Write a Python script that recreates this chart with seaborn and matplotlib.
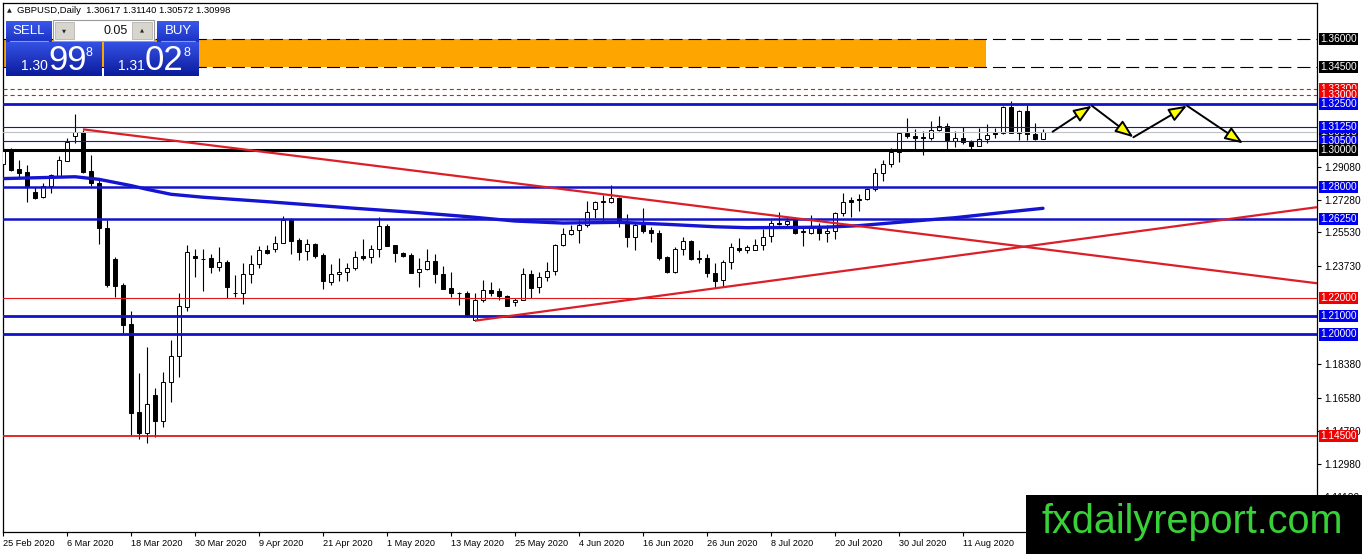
import numpy as np
import matplotlib
matplotlib.use("Agg")
import matplotlib.pyplot as plt
import seaborn as sns
from matplotlib.patches import Rectangle
from matplotlib.colors import LinearSegmentedColormap

# ------------------------------------------------------------------ data
symbol = "GBPUSD,Daily"
date_labels = ["25 Feb 2020", "6 Mar 2020", "18 Mar 2020", "30 Mar 2020", "9 Apr 2020",
               "21 Apr 2020", "1 May 2020", "13 May 2020", "25 May 2020", "4 Jun 2020",
               "16 Jun 2020", "26 Jun 2020", "8 Jul 2020", "20 Jul 2020", "30 Jul 2020",
               "11 Aug 2020", "21 Aug 2020"]
label_step = 8

opens = [1.2924, 1.3000, 1.2895, 1.2883, 1.2772, 1.2743, 1.2805, 1.2859, 1.2942, 1.3076,
         1.3096, 1.2886, 1.2819, 1.2575, 1.2407, 1.2268, 1.2057, 1.1578, 1.1464, 1.1672,
         1.1533, 1.1741, 1.1883, 1.2151, 1.2425, 1.2411, 1.2413, 1.2364, 1.2395, 1.2227,
         1.2223, 1.2326, 1.2380, 1.2458, 1.2462, 1.2498, 1.2621, 1.2512, 1.2451, 1.2493,
         1.2431, 1.2287, 1.2327, 1.2338, 1.2359, 1.2424, 1.2419, 1.2462, 1.2588, 1.2484,
         1.2440, 1.2431, 1.2338, 1.2354, 1.2398, 1.2327, 1.2254, 1.2227, 1.2223, 1.2081,
         1.2186, 1.2243, 1.2236, 1.2209, 1.2174, 1.2186, 1.2327, 1.2256, 1.2314, 1.2345,
         1.2484, 1.2543, 1.2564, 1.2591, 1.2680, 1.2724, 1.2720, 1.2738, 1.2603, 1.2527,
         1.2594, 1.2567, 1.2549, 1.2418, 1.2340, 1.2465, 1.2509, 1.2413, 1.2413, 1.2331,
         1.2295, 1.2392, 1.2467, 1.2460, 1.2460, 1.2483, 1.2535, 1.2603, 1.2597, 1.2621,
         1.2557, 1.2549, 1.2576, 1.2549, 1.2561, 1.2657, 1.2729, 1.2734, 1.2733, 1.2787,
         1.2874, 1.2922, 1.2987, 1.3090, 1.3076, 1.3072, 1.3063, 1.3108, 1.3132, 1.3051,
         1.3063, 1.3045, 1.3023, 1.3058, 1.3096, 1.3094, 1.3231, 1.3090, 1.3211, 1.3085,
         1.30617]
highs = [1.3018, 1.3009, 1.2946, 1.2919, 1.2798, 1.2819, 1.2870, 1.2967, 1.3063, 1.3195,
         1.3108, 1.2973, 1.2837, 1.2620, 1.2422, 1.2277, 1.2129, 1.1790, 1.1934, 1.1708,
         1.1797, 1.1970, 1.2223, 1.2485, 1.2462, 1.2462, 1.2437, 1.2476, 1.2404, 1.2323,
         1.2386, 1.2431, 1.2482, 1.2485, 1.2534, 1.2642, 1.2630, 1.2521, 1.2516, 1.2497,
         1.2440, 1.2382, 1.2413, 1.2386, 1.2455, 1.2516, 1.2484, 1.2639, 1.2599, 1.2484,
         1.2449, 1.2440, 1.2413, 1.2462, 1.2436, 1.2372, 1.2338, 1.2232, 1.2236, 1.2223,
         1.2296, 1.2283, 1.2250, 1.2213, 1.2199, 1.2363, 1.2350, 1.2341, 1.2395, 1.2493,
         1.2575, 1.2594, 1.2621, 1.2725, 1.2725, 1.2756, 1.2810, 1.2747, 1.2653, 1.2603,
         1.2684, 1.2582, 1.2564, 1.2425, 1.2472, 1.2530, 1.2513, 1.2458, 1.2436, 1.2386,
         1.2404, 1.2495, 1.2521, 1.2485, 1.2516, 1.2570, 1.2621, 1.2665, 1.2639, 1.2639,
         1.2582, 1.2647, 1.2603, 1.2594, 1.2666, 1.2765, 1.2747, 1.2760, 1.2796, 1.2901,
         1.2946, 1.3009, 1.3099, 1.3172, 1.3112, 1.3105, 1.3157, 1.3184, 1.3145, 1.3105,
         1.3126, 1.3054, 1.3121, 1.3139, 1.3121, 1.3240, 1.3266, 1.3217, 1.3244, 1.3145,
         1.31140]
lows = [1.2919, 1.2888, 1.2855, 1.2720, 1.2734, 1.2738, 1.2765, 1.2852, 1.2942, 1.3036,
        1.2877, 1.2805, 1.2490, 1.2259, 1.2201, 1.2006, 1.1455, 1.1432, 1.1410, 1.1443,
        1.1497, 1.1636, 1.1771, 1.2129, 1.2313, 1.2238, 1.2332, 1.2346, 1.2200, 1.2205,
        1.2165, 1.2280, 1.2359, 1.2438, 1.2449, 1.2496, 1.2437, 1.2404, 1.2404, 1.2412,
        1.2245, 1.2267, 1.2292, 1.2292, 1.2350, 1.2404, 1.2386, 1.2422, 1.2480, 1.2395,
        1.2418, 1.2332, 1.2259, 1.2347, 1.2277, 1.2247, 1.2205, 1.2160, 1.2095, 1.2075,
        1.2177, 1.2208, 1.2186, 1.2155, 1.2155, 1.2186, 1.2200, 1.2227, 1.2292, 1.2323,
        1.2480, 1.2539, 1.2495, 1.2582, 1.2630, 1.2603, 1.2711, 1.2582, 1.2474, 1.2458,
        1.2549, 1.2503, 1.2404, 1.2331, 1.2336, 1.2430, 1.2404, 1.2385, 1.2310, 1.2250,
        1.2259, 1.2354, 1.2449, 1.2440, 1.2458, 1.2458, 1.2503, 1.2594, 1.2578, 1.2546,
        1.2477, 1.2546, 1.2512, 1.2503, 1.2518, 1.2644, 1.2639, 1.2669, 1.2729, 1.2778,
        1.2834, 1.2910, 1.2937, 1.3067, 1.3005, 1.2973, 1.3054, 1.3105, 1.3005, 1.3014,
        1.3031, 1.3005, 1.3022, 1.3040, 1.3067, 1.3087, 1.3090, 1.3054, 1.3054, 1.3054,
        1.30572]
closes = [1.3004, 1.2892, 1.2877, 1.2801, 1.2742, 1.2807, 1.2863, 1.2946, 1.3043, 1.3098,
          1.2883, 1.2819, 1.2575, 1.2268, 1.2263, 1.2051, 1.1576, 1.1464, 1.1623, 1.1533,
          1.1741, 1.1883, 1.2156, 1.2445, 1.2413, 1.2407, 1.2364, 1.2391, 1.2259, 1.2223,
          1.2328, 1.2382, 1.2458, 1.2440, 1.2494, 1.2621, 1.2509, 1.2449, 1.2493, 1.2425,
          1.2292, 1.2327, 1.2338, 1.2359, 1.2422, 1.2417, 1.2462, 1.2588, 1.2480, 1.2440,
          1.2425, 1.2335, 1.2354, 1.2398, 1.2327, 1.2247, 1.2227, 1.2223, 1.2105, 1.2186,
          1.2243, 1.2227, 1.2208, 1.2155, 1.2186, 1.2327, 1.2254, 1.2314, 1.2345, 1.2484,
          1.2545, 1.2567, 1.2594, 1.2663, 1.2716, 1.2716, 1.2738, 1.2603, 1.2530, 1.2594,
          1.2561, 1.2549, 1.2417, 1.2340, 1.2465, 1.2509, 1.2409, 1.2409, 1.2331, 1.2292,
          1.2392, 1.2472, 1.2458, 1.2472, 1.2483, 1.2530, 1.2603, 1.2597, 1.2616, 1.2549,
          1.2563, 1.2576, 1.2549, 1.2563, 1.2657, 1.2720, 1.2720, 1.2727, 1.2787, 1.2874,
          1.2922, 1.2987, 1.3090, 1.3078, 1.3067, 1.3063, 1.3108, 1.3132, 1.3052, 1.3063,
          1.3042, 1.3022, 1.3058, 1.3081, 1.3089, 1.3231, 1.3090, 1.3211, 1.3085, 1.3058,
          1.30998]

# moving average
ma_bars = [0, 9, 12, 16, 18, 21, 25, 29, 33, 37, 44, 52, 58, 64, 70, 77, 83, 89, 93,
           98, 103, 107, 113, 119, 126, 130]
ma_values = [1.2845, 1.2855, 1.2841, 1.2807, 1.2787, 1.2760, 1.2744, 1.2732, 1.2720,
             1.2707, 1.2684, 1.2660, 1.2639, 1.2615, 1.2604, 1.2608, 1.2597, 1.2584,
             1.2579, 1.2580, 1.2582, 1.2590, 1.2612, 1.2633, 1.2666, 1.2684]

# trend lines (two anchor points each, drawn as rays to the right)
trend_down_bars = [10, 76]
trend_down_prices = [1.3112, 1.2755]
trend_up_bars = [59, 104]
trend_up_prices = [1.2075, 1.2338]

# projected path (zig-zag arrows)
proj_bars = [131.2, 136.1, 141.3, 148.0, 155.0]
proj_prices = [1.3099, 1.3240, 1.3069, 1.3240, 1.3036]

# resistance zone
zone_low, zone_high = 1.345, 1.360
zone_end_bar = 122.9

# horizontal levels
level_prices = [1.360, 1.345, 1.333, 1.330, 1.325, 1.3125, 1.305, 1.300, 1.280,
                1.2625, 1.220, 1.210, 1.200, 1.145]
level_colors = ["black", "black", "#E01818", "#E01818", "#1212C8", "#1212C8",
                "#1212C8", "black", "#1212C8", "#1212C8", "#E01818", "#1212C8",
                "#1212C8", "#E01818"]
level_widths = [0.8, 0.8, 0.8, 0.8, 2.0, 0.8, 0.8, 2.2, 1.8, 1.8, 0.8, 2.0, 2.0, 1.3]
level_styles = ["long", "long", "short", "short", "-", "-", "-", "-", "-", "-", "-",
                "-", "-", "-"]
label_box_colors = ["black", "black", "#F00000", "#F00000", "#0000F0", "#0000F0",
                    "#0000F0", "black", "#0000F0", "#0000F0", "#F00000", "#0000F0",
                    "#0000F0", "#F00000"]

axis_ticks = [1.2908, 1.2728, 1.2553, 1.2373, 1.1838, 1.1658, 1.1478, 1.1298, 1.1118]

# ------------------------------------------------------------------ style
sns.set_style("white")
plt.rcParams["font.family"] = ["Liberation Sans", "DejaVu Sans"]
plt.rcParams["lines.scale_dashes"] = False

W, H = 1362, 554
fig = plt.figure(figsize=(W / 100, H / 100), dpi=100, facecolor="white")
ax_l, ax_r, ax_t, ax_b = 2.7, 1316.7, 2.7, 532.3
ax = fig.add_axes([ax_l / W, (H - ax_b) / H, (ax_r - ax_l) / W, (ax_b - ax_t) / H])
ax.set_facecolor("white")

n = len(opens)
idx = np.arange(n)
o = np.array(opens); h = np.array(highs); l = np.array(lows); c = np.array(closes)

xmin = (ax_l - 3) / 8.0
xmax = (ax_r - 3) / 8.0
ax.set_xlim(xmin, xmax)
ax.set_ylim(1.092791, 1.379837)

# zone
ax.add_patch(Rectangle((xmin - 5, zone_low), zone_end_bar - xmin + 5, zone_high - zone_low,
                       facecolor="#FFA500", edgecolor="none", zorder=1))

# candles
ax.vlines(idx, l, h, color="black", lw=0.8, zorder=2)
body_bottom = np.minimum(o, c)
body_height = np.maximum(np.abs(c - o), 0.00012)
body_colors = np.where(c >= o, "white", "black")
ax.bar(idx, body_height, bottom=body_bottom, width=0.62, color=body_colors,
       edgecolor="black", linewidth=0.7, zorder=3)

# horizontal levels
dash_map = {"long": (0, (9.4, 4.3)), "short": (0, (2.9, 2.2)), "-": "-"}
for p, col, lw, st in zip(level_prices, level_colors, level_widths, level_styles):
    ax.axhline(p, color=col, lw=lw, ls=dash_map[st], zorder=4)
# bid line
ax.axhline(closes[-1], color="#C0C0C0", lw=0.8, zorder=3.5)

# moving average
sns.lineplot(x=ma_bars, y=ma_values, ax=ax, color="#1414D2", lw=2.4, zorder=4.5)

# trend lines
for bx, py in ((trend_down_bars, trend_down_prices), (trend_up_bars, trend_up_prices)):
    slope = (py[1] - py[0]) / (bx[1] - bx[0])
    ax.plot([bx[0], xmax + 1], [py[0], py[0] + slope * (xmax + 1 - bx[0])],
            color="#DC1E28", lw=1.6, zorder=5, solid_capstyle="butt")

# projection arrows
for i in range(len(proj_bars) - 1):
    ax.annotate("", xy=(proj_bars[i + 1], proj_prices[i + 1]),
                xytext=(proj_bars[i], proj_prices[i]),
                arrowprops=dict(arrowstyle="-|>,head_length=1.1,head_width=0.42",
                                fc="#FFFF00", ec="black", lw=1.4, shrinkA=0, shrinkB=0,
                                mutation_scale=10),
                zorder=6)

# axes cosmetics
for s in ax.spines.values():
    s.set_color("black")
    s.set_linewidth(0.9)
ax.set_xlabel("")
ax.set_ylabel("")
ax.grid(False)

ax.set_xticks(np.arange(len(date_labels)) * label_step)
ax.set_xticklabels(date_labels, ha="left", fontsize=6.6)
ax.yaxis.tick_right()
ax.set_yticks(axis_ticks)
ax.set_yticklabels([f"{v:.5f}" for v in axis_ticks], fontsize=7.3)
ax.tick_params(axis="x", direction="out", length=3, width=0.8, pad=1.5, colors="black",
               bottom=True)
ax.tick_params(axis="y", direction="out", length=3, width=0.8, pad=2.5, colors="black",
               right=True, left=False)

# boxed price labels (drawn in an order so that upper ones overlap correctly)
order = [3, 2, 0, 1, 4, 5, 6, 7, 8, 9, 10, 11, 12, 13]
ax.annotate(f"{closes[-1]:.5f}", xy=(1, closes[-1]), xycoords=("axes fraction", "data"),
            xytext=(3.5, 0), textcoords="offset pixels", ha="left", va="center",
            fontsize=7.3, color="white", annotation_clip=False, zorder=9,
            bbox=dict(boxstyle="square,pad=0.1", fc="black", ec="none"))
for k in order:
    p = level_prices[k]
    ax.annotate(f"{p:.5f}", xy=(1, p), xycoords=("axes fraction", "data"),
                xytext=(3.5, 0), textcoords="offset pixels", ha="left", va="center",
                fontsize=7.3, color="white", annotation_clip=False, zorder=10 + k * 0.01,
                bbox=dict(boxstyle="square,pad=0.1", fc=label_box_colors[k], ec="none"))

# ------------------------------------------------------------------ overlay (panel, banner)
ov = fig.add_axes([0, 0, 1, 1], zorder=20)
ov.patch.set_alpha(0)


def grad_box(x0, y0, x1, y1, top="#3451e4", bot="#0b1b9c"):
    cmap = LinearSegmentedColormap.from_list("g", [top, bot])
    ov.imshow(np.linspace(0, 1, 64).reshape(-1, 1), cmap=cmap, extent=(x0, x1, y1, y0),
              aspect="auto", interpolation="bilinear", zorder=1)


narrow = ["Liberation Sans Narrow", "Liberation Sans", "DejaVu Sans"]

# header
ov.text(9.5, 10.5, "\u25B2", fontsize=4.5, ha="center", va="center",
        family=["DejaVu Sans"], color="#202020")
ov.text(17, 10.5, f"{symbol}  {opens[-1]:.5f} {highs[-1]:.5f} {lows[-1]:.5f} {closes[-1]:.5f}",
        fontsize=6.8, ha="left", va="center", color="black")

# sell / buy buttons
grad_box(6, 21, 52, 42, "#3a58ea", "#1a32c4")
grad_box(157, 21, 199, 42, "#3a58ea", "#1a32c4")
ov.plot([10, 48], [41.3, 41.3], color="#8898e8", lw=0.8, zorder=2)
ov.plot([161, 195], [41.3, 41.3], color="#8898e8", lw=0.8, zorder=2)
ov.text(29, 31.5, "SELL", color="white", fontsize=9.5, ha="center", va="center", family=narrow)
ov.text(178, 31.5, "BUY", color="white", fontsize=9.5, ha="center", va="center", family=narrow)

# lot box
ov.add_patch(Rectangle((53, 19.5), 101, 21.5, fc="white", ec="#9a9a9a", lw=0.8, zorder=1))
ov.add_patch(Rectangle((55, 21.5), 18.5, 17.5, fc="#d8d5cf", ec="#b8b5b0", lw=0.6, zorder=2))
ov.add_patch(Rectangle((132, 21.5), 20, 17.5, fc="#d8d5cf", ec="#b8b5b0", lw=0.6, zorder=2))
ov.text(64, 30.5, "\u25BC", fontsize=3.8, ha="center", va="center", family=["DejaVu Sans"])
ov.text(142, 30, "\u25B2", fontsize=3.8, ha="center", va="center", family=["DejaVu Sans"])
ov.text(128, 30.5, "0.05", fontsize=9, ha="right", va="center", color="#101010", family=narrow)

# price boxes
grad_box(6, 42, 102, 76)
grad_box(104, 42, 199, 76)
ov.text(21, 70, "1.30", color="white", fontsize=10, ha="left", va="baseline", family=narrow)
ov.text(48, 70.5, "99", color="white", fontsize=25, ha="left", va="baseline", family=narrow)
ov.text(85, 56, "8", color="white", fontsize=9, ha="left", va="baseline", family=narrow)
ov.text(118, 70, "1.31", color="white", fontsize=10, ha="left", va="baseline", family=narrow)
ov.text(145, 70.5, "02", color="white", fontsize=25, ha="left", va="baseline", family=narrow)
ov.text(183, 56, "8", color="white", fontsize=9, ha="left", va="baseline", family=narrow)

# banner
ov.add_patch(Rectangle((1026, 495), 336, 59, fc="black", ec="none", zorder=3))
ov.text(1041, 533, "fxdailyreport.com", color="#38D238", fontsize=28.5, ha="left",
        va="baseline", family=["Liberation Sans", "DejaVu Sans"], zorder=4)

ov.set_xlim(0, W)
ov.set_ylim(H, 0)
ov.axis("off")

fig.savefig("out.png", dpi=100, facecolor="white")
